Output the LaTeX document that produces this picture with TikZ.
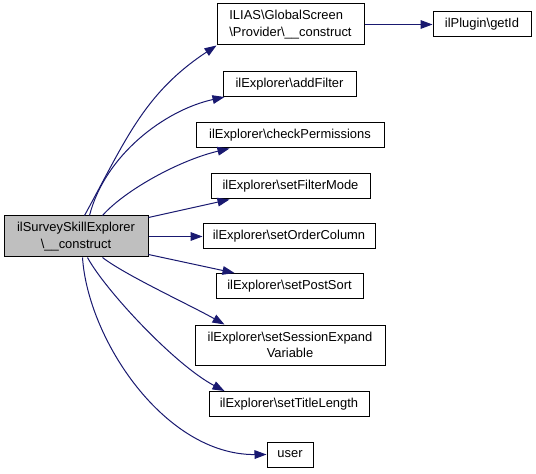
\documentclass[tikz,border=0pt]{standalone}
\usepackage{fontspec}
\setmainfont{Liberation Sans}
\usetikzlibrary{arrows.meta,calc}
\definecolor{edgeblue}{HTML}{191970}
\definecolor{mainfill}{HTML}{BFBFBF}
\newcommand\pxu{0.75pt}
\tikzset{
  fn/.style={draw=black, line width=0.75pt, fill=white, inner sep=0pt, align=center,
    font=\fontsize{9.7}{12.3}\selectfont, minimum height=25*\pxu},
  edge/.style={draw=edgeblue, line width=0.75pt, -{Triangle[length=9pt,width=6.5pt]}},
}
\begin{document}
\begin{tikzpicture}[x=0.75pt,y=-0.75pt]
\useasboundingbox[fill=white] (0,0) rectangle (536,474);
\node[fn, fill=mainfill, minimum width=144*\pxu, minimum height=41*\pxu] (main) at (76,236.5) {ilSurveySkillExplorer\\\textbackslash\_\_construct};
\node[fn, align=left, minimum width=147*\pxu, minimum height=41*\pxu] (ilias) at (290.5,24.5) {ILIAS\textbackslash GlobalScreen\\\textbackslash Provider\textbackslash\_\_construct};
\node[fn, minimum width=98*\pxu] (getid) at (482,24.5) {ilPlugin\textbackslash getId};
\node[fn, minimum width=133*\pxu] (addfilter) at (289.5,84) {ilExplorer\textbackslash addFilter};
\node[fn, minimum width=188*\pxu] (checkperm) at (290,135.5) {ilExplorer\textbackslash checkPermissions};
\node[fn, minimum width=159*\pxu] (filtermode) at (290.5,186.5) {ilExplorer\textbackslash setFilterMode};
\node[fn, minimum width=172*\pxu] (ordercol) at (289,236.5) {ilExplorer\textbackslash setOrderColumn};
\node[fn, minimum width=147*\pxu] (postsort) at (289.5,286) {ilExplorer\textbackslash setPostSort};
\node[fn, minimum width=190*\pxu, minimum height=40*\pxu] (session) at (290,345) {ilExplorer\textbackslash setSessionExpand\\Variable};
\node[fn, minimum width=160*\pxu] (titlelen) at (289,404) {ilExplorer\textbackslash setTitleLength};
\node[fn, minimum width=46*\pxu] (user) at (290,454.5) {user};

\draw[edge] ($(main.north west)+(81,0)$) .. controls (125,142) and (143,94) .. (ilias.south west);
\draw[edge] ($(main.north west)+(86,0)$) .. controls (105,155) and (165,110) .. ($(addfilter.south west)+(2,0)$);
\draw[edge] ($(main.north west)+(99,0)$) .. controls (125,190) and (180,160) .. ($(checkperm.south west)+(34,0)$);
\draw[edge] ($(main.north east)+(0,2)$) -- ($(filtermode.south west)+(19,0)$);
\draw[edge] (main.east) -- (ordercol.west);
\draw[edge] ($(main.south east)+(0,-3)$) -- ($(postsort.north west)+(19,0)$);
\draw[edge] ($(main.south west)+(99,0)$) .. controls (125,275) and (190,305) .. ($(session.north west)+(30,0)$);
\draw[edge] ($(main.south west)+(84,0)$) .. controls (105,290) and (175,365) .. ($(titlelen.north west)+(16,0)$);
\draw[edge] ($(main.south west)+(79,0)$) .. controls (88,340) and (165,455) .. (user.west);
\draw[edge] (ilias.east) -- (getid.west);
\end{tikzpicture}
\end{document}
